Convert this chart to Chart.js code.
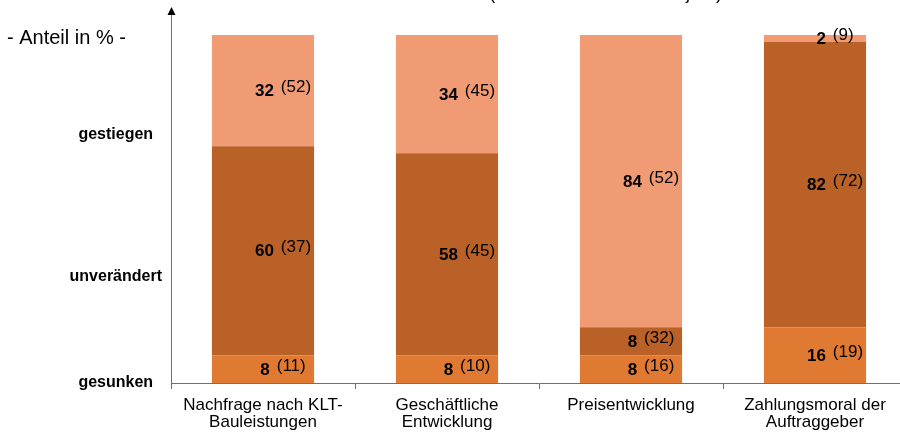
<!DOCTYPE html>
<html>
<head>
<meta charset="utf-8">
<script src="https://cdn.jsdelivr.net/npm/chart.js@4/dist/chart.umd.min.js"></script>
<style>
html,body{margin:0;padding:0;background:#fff;overflow:hidden;width:900px;height:434px;}
canvas{display:block;}
</style>
</head>
<body>
<canvas id="c" width="907" height="434"></canvas>
<script>
const categories = [["Nachfrage nach KLT-","Bauleistungen"],["Geschäftliche","Entwicklung"],"Preisentwicklung",["Zahlungsmoral der","Auftraggeber"]];
const gesunken = [8, 8, 8, 16];
const unveraendert = [60, 58, 8, 82];
const gestiegen = [32, 34, 84, 2];
const gesunkenVorjahr = [11, 10, 16, 19];
const unveraendertVorjahr = [37, 45, 32, 72];
const gestiegenVorjahr = [52, 45, 52, 9];
const yTickValues = [0, 30.5, 71.5];
const yTickLabels = ["gesunken", "unverändert", "gestiegen"];
const seriesNames = ["gesunken", "unverändert", "gestiegen"];
const topNote = "(Werte in Klammern: Vorjahr)";
const unitNote = "- Anteil in % -";

const FONT = "'Liberation Sans', Arial, sans-serif";

const labelPlugin = {
  id: 'labels',
  afterDatasetsDraw(chart) {
    const ctx = chart.ctx;
    ctx.save();
    chart.data.datasets.forEach((ds, di) => {
      const meta = chart.getDatasetMeta(di);
      meta.data.forEach((bar, i) => {
        const v = ds.data[i];
        const p = ds.prev[i];
        const cy = (bar.y + bar.base) / 2 + 1;
        ctx.font = "bold 17px " + FONT;
        const s1 = String(v);
        const w1 = ctx.measureText(s1).width;
        ctx.font = "17px " + FONT;
        const s2 = "(" + p + ")";
        const w2 = ctx.measureText(s2).width;
        const gap = 7;
        const total = w1 + gap + w2;
        const x0 = bar.x + 20 - total / 2;
        ctx.fillStyle = '#000';
        ctx.textBaseline = 'middle';
        ctx.textAlign = 'left';
        ctx.font = "bold 17px " + FONT;
        ctx.fillText(s1, x0, cy);
        ctx.font = "17px " + FONT;
        ctx.fillText(s2, x0 + w1 + gap, cy - 4);
      });
    });
    ctx.restore();
  },
  afterDraw(chart) {
    const ctx = chart.ctx;
    const a = chart.chartArea;
    ctx.save();
    ctx.strokeStyle = '#707070';
    ctx.lineWidth = 1;
    ctx.beginPath();
    ctx.moveTo(a.left + 0.5, a.top);
    ctx.lineTo(a.left + 0.5, 13);
    ctx.stroke();
    ctx.fillStyle = '#000';
    ctx.beginPath();
    ctx.moveTo(a.left + 0.5, 7);
    ctx.lineTo(a.left - 3.5, 15);
    ctx.lineTo(a.left + 4.5, 15);
    ctx.closePath();
    ctx.fill();
    ctx.fillStyle = '#000';
    ctx.font = "20px " + FONT;
    ctx.textAlign = 'left';
    ctx.textBaseline = 'middle';
    ctx.fillText(unitNote, 7, 38);
    ctx.font = "18px " + FONT;
    ctx.textBaseline = 'alphabetic';
    ctx.textAlign = 'right';
    ctx.fillText(topNote, 722, -1.5);
    ctx.restore();
  }
};

new Chart(document.getElementById('c'), {
  type: 'bar',
  data: {
    labels: categories,
    datasets: [
      { label: seriesNames[0], data: gesunken, prev: gesunkenVorjahr, backgroundColor: '#E07A32' },
      { label: seriesNames[1], data: unveraendert, prev: unveraendertVorjahr, backgroundColor: '#B96126' },
      { label: seriesNames[2], data: gestiegen, prev: gestiegenVorjahr, backgroundColor: '#F09B74' }
    ]
  },
  options: {
    responsive: false,
    animation: false,
    devicePixelRatio: 1,
    layout: { padding: { left: 0, top: 35, right: 0, bottom: 0 } },
    plugins: { legend: { display: false }, tooltip: { enabled: false }, title: { display: false } },
    datasets: { bar: { categoryPercentage: 1, barPercentage: 0.555 } },
    scales: {
      x: {
        stacked: true,
        afterFit(s) { s.height = 51; },
        grid: { display: true, offset: true, drawOnChartArea: false, drawTicks: true, tickLength: 6, color: '#707070' },
        border: { display: true, color: '#707070' },
        ticks: { color: '#000', font: { family: FONT, size: 17, lineHeight: 1.0 }, padding: 8, maxRotation: 0, autoSkip: false }
      },
      y: {
        stacked: true,
        min: 0, max: 100,
        afterFit(s) { s.width = 171; },
        afterBuildTicks(s) { s.ticks = yTickValues.map(v => ({ value: v })); },
        grid: { display: false, drawTicks: false },
        border: { display: true, color: '#707070' },
        ticks: {
          color: '#000',
          crossAlign: 'center',
          padding: 9,
          font: { family: FONT, size: 16, weight: 'bold' },
          callback(v) { const i = yTickValues.indexOf(v); return i >= 0 ? yTickLabels[i] : ''; }
        }
      }
    }
  },
  plugins: [labelPlugin]
});
</script>
</body>
</html>
